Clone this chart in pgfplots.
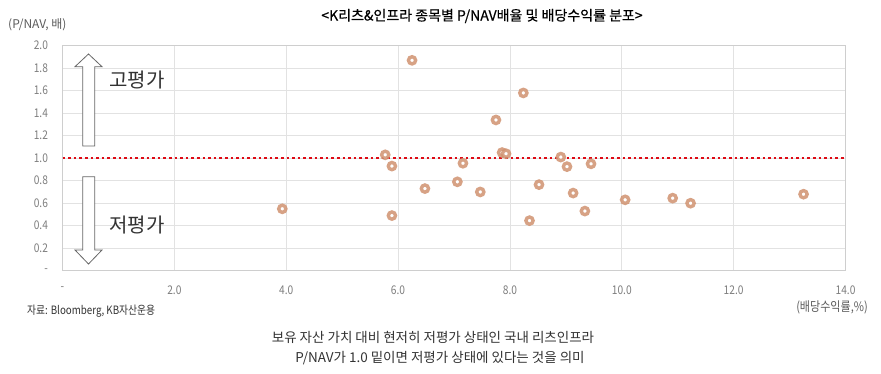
\documentclass[border=0pt]{standalone}
\usepackage{pgfplots}
\pgfplotsset{compat=1.18}
\usepackage{fontspec}
\setmainfont{Noto Sans CJK KR}
\newfontfamily\condfont[FakeStretch=0.85]{Noto Sans CJK KR}
\newfontfamily\titlefont[FakeBold=0.5]{Noto Sans CJK KR}
\definecolor{ringc}{RGB}{208,146,112}
\definecolor{redline}{RGB}{222,10,20}
\definecolor{tickc}{RGB}{125,125,125}
\definecolor{gridc}{RGB}{226,226,226}
\definecolor{txt}{RGB}{50,50,50}
\begin{document}
\begin{tikzpicture}[x=1pt,y=1pt]
\path[use as bounding box] (0,0) rectangle (881,374);
\begin{axis}[
  at={(62.5pt,103.3pt)}, anchor=south west,
  scale only axis, width=783pt, height=225pt,
  xmin=0, xmax=14, ymin=0, ymax=2,
  xtick={0,2,4,6,8,10,12,14},
  xticklabels={-,2.0,4.0,6.0,8.0,10.0,12.0,14.0},
  ytick={0,0.2,0.4,0.6,0.8,1.0,1.2,1.4,1.6,1.8,2.0},
  yticklabels={-,0.2,0.4,0.6,0.8,1.0,1.2,1.4,1.6,1.8,2.0},
  major tick length=0pt,
  grid=major, grid style={gridc, line width=0.6pt},
  axis line style={gridc!80!gray, line width=0.6pt},
  tick label style={tickc, font=\condfont\fontsize{12}{14}\selectfont},
  xticklabel style={yshift=-12pt},
  yticklabel style={xshift=-11pt},
  clip=false,
]
\addplot[only marks, mark=*, mark size=3.6pt,
  mark options={draw=ringc, fill=white, line width=3.4pt, draw opacity=0.85}]
  coordinates {
  (3.93,0.55) (5.77,1.03) (5.89,0.93) (5.89,0.49) (6.25,1.87) (6.48,0.73)
  (7.06,0.79) (7.16,0.955) (7.47,0.70) (7.75,1.34) (7.86,1.05) (7.93,1.04)
  (8.24,1.58) (8.35,0.445) (8.52,0.765) (8.91,1.01) (9.02,0.925) (9.13,0.69)
  (9.34,0.53) (9.45,0.95) (10.06,0.63) (10.91,0.645) (11.23,0.60) (13.25,0.68)
  };
\addplot[redline, line width=2.6pt, dash pattern=on 2.6pt off 3.0pt] coordinates {(0,1) (14,1)};
\end{axis}
% arrows
\draw[gray!80!black, line width=0.8pt, fill=white]
  (82.7,228) -- (82.7,307.3) -- (75,307.3) -- (88.5,320) -- (102,307.3) -- (94.7,307.3) -- (94.7,228) -- cycle;
\draw[gray!80!black, line width=0.8pt, fill=white]
  (82.7,197.3) -- (82.7,124) -- (75,124) -- (88.5,110) -- (102,124) -- (94.7,124) -- (94.7,197.3) -- cycle;
\node[txt, font=\fontsize{20}{22}\selectfont, inner sep=0pt] at (137,294) {고평가};
\node[txt, font=\fontsize{20}{22}\selectfont, inner sep=0pt] at (137,149) {저평가};
% texts
\node[black, font=\titlefont\fontsize{14}{16}\selectfont, inner sep=0pt] at (482,358) {<K리츠\&인프라 종목별 P/NAV배율 및 배당수익률 분포>};
\node[txt!80!white, font=\fontsize{12}{14}\selectfont, inner sep=0pt, anchor=west] at (8,349) {(P/NAV, 배)};
\node[txt!80!white, font=\condfont\fontsize{13}{15}\selectfont, inner sep=0pt, anchor=east] at (868,67) {(배당수익률,\%)};
\node[txt, font=\condfont\fontsize{11.5}{13}\selectfont, inner sep=0pt, anchor=west] at (27,63) {자료: Bloomberg, KB자산운용};
\node[txt, font=\fontsize{13.5}{15}\selectfont, inner sep=0pt] at (433,37) {보유 자산 가치 대비 현저히 저평가 상태인 국내 리츠인프라};
\node[txt, font=\fontsize{13.5}{15}\selectfont, inner sep=0pt] at (440,16) {P/NAV가 1.0 밑이면 저평가 상태에 있다는 것을 의미};
\end{tikzpicture}
\end{document}
